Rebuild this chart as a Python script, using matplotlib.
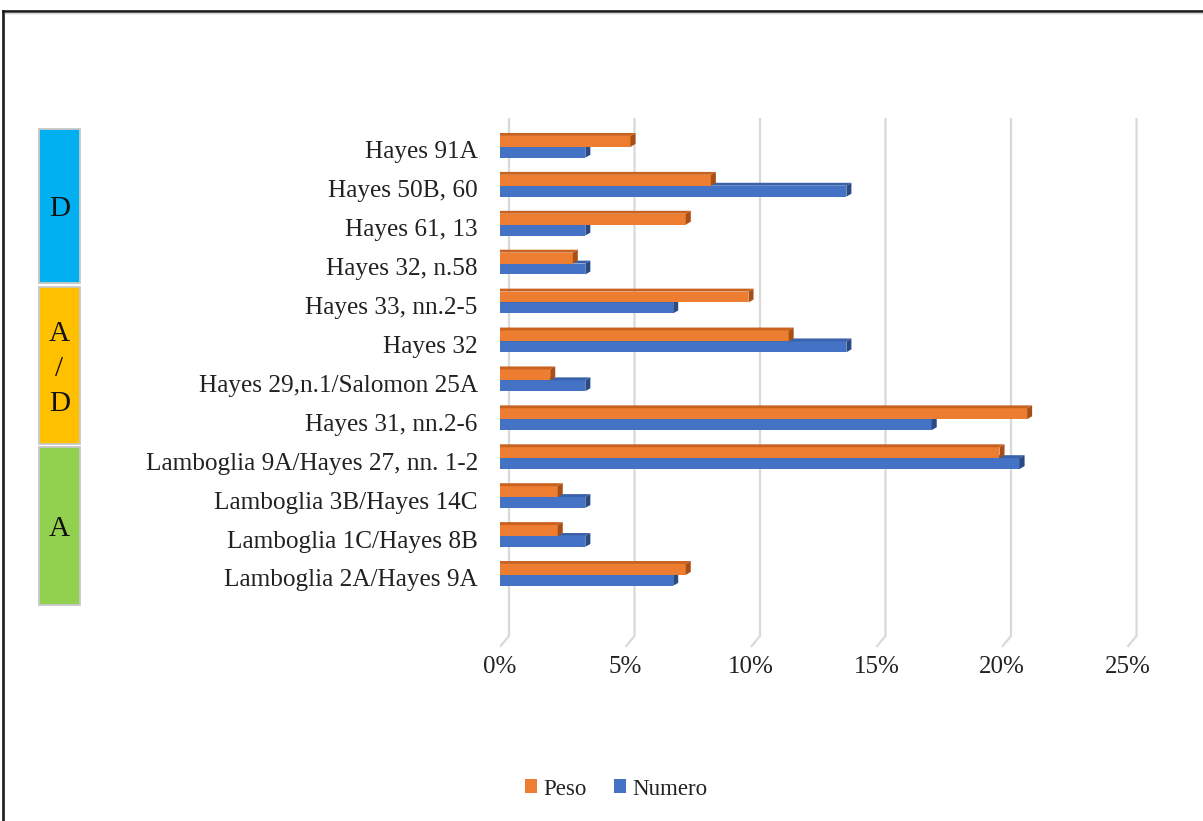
import matplotlib
matplotlib.use("Agg")
import matplotlib.pyplot as plt
from matplotlib.patches import Polygon, Rectangle
from matplotlib.lines import Line2D

plt.rcParams['font.family'] = ['Liberation Serif', 'DejaVu Serif']

# ---- data -------------------------------------------------------------
forms = [
    "Lamboglia 2A/Hayes 9A",
    "Lamboglia 1C/Hayes 8B",
    "Lamboglia 3B/Hayes 14C",
    "Lamboglia 9A/Hayes 27, nn. 1-2",
    "Hayes 31, nn.2-6",
    "Hayes 29,n.1/Salomon 25A",
    "Hayes 32",
    "Hayes 33, nn.2-5",
    "Hayes 32, n.58",
    "Hayes 61, 13",
    "Hayes 50B, 60",
    "Hayes 91A",
]
peso = [7.4, 2.3, 2.3, 19.9, 21.0, 2.0, 11.5, 9.9, 2.9, 7.4, 8.4, 5.2]
numero = [6.9, 3.4, 3.4, 20.7, 17.2, 3.4, 13.8, 6.9, 3.4, 3.4, 13.8, 3.4]
series_names = ["Peso", "Numero"]
x_ticks = [0, 5, 10, 15, 20, 25]
x_ticklabels = ["0%", "5%", "10%", "15%", "20%", "25%"]
groups = ["D", "A\n/\nD", "A"]

# ---- style ------------------------------------------------------------
W, H = 1203, 821
ORANGE, ORANGE_TOP, ORANGE_SIDE = "#ED7D31", "#C9621F", "#A94F16"
BLUE, BLUE_TOP, BLUE_SIDE = "#4472C4", "#3A62AA", "#2A4A86"
GROUP_COLORS = ["#00B0F0", "#FFC000", "#92D050"]
TEXT = "#222222"

fig = plt.figure(figsize=(W / 100, H / 100), dpi=100)
fig.patch.set_facecolor("white")

def fx(px):
    return px / W

def fy(py):
    return 1 - py / H

# chart frame
fig.add_artist(Line2D([fx(3), fx(1210)], [fy(11), fy(11)], color="#1a1a1a", lw=1.9))
fig.add_artist(Line2D([fx(3), fx(3)], [fy(11), fy(830)], color="#1a1a1a", lw=1.9))
fig.add_artist(Line2D([fx(5), fx(1210)], [fy(13.5), fy(13.5)], color="#cfcfcf", lw=1.0))

# ---- main axes ---------------------------------------------------------
ax = fig.add_axes([fx(500), fy(648), (1145 - 500) / W, (648 - 118) / H])
px_per_pct = 25.1
ax.set_xlim(0, 645 / px_per_pct)
ax.set_ylim(-1.80, 11.82)
ax.set_facecolor("none")
for s in ax.spines.values():
    s.set_visible(False)

# gridlines on the back wall with a short slanted floor segment
gx = 9 / px_per_pct
for v in x_ticks:
    ax.plot([v + gx, v + gx, v], [11.82, -1.49, -1.77], color="#D9D9D9",
            lw=1.6, zorder=1, solid_capstyle="butt")

y = list(range(len(forms)))
bar_h = 0.28
dx, dy = 0.2, 0.075

def draw_series(vals, offset, face, top, side, z, label):
    pos = [i + offset for i in y]
    bars = ax.barh(pos, vals, height=bar_h, color=face, zorder=z, label=label,
                   linewidth=0)
    for p, v in zip(pos, vals):
        yb, yt = p - bar_h / 2, p + bar_h / 2
        ax.add_patch(Polygon([(0, yt), (v, yt), (v + dx, yt + dy), (0, yt + dy)],
                             closed=True, color=top, lw=0, zorder=z))
        ax.add_patch(Polygon([(v, yb), (v, yt), (v + dx, yt + dy), (v + dx, yb + dy)],
                             closed=True, color=side, lw=0, zorder=z))
    return bars

b_num = draw_series(numero, -0.06, BLUE, BLUE_TOP, BLUE_SIDE, 3, series_names[1])
b_peso = draw_series(peso, 0.22, ORANGE, ORANGE_TOP, ORANGE_SIDE, 4, series_names[0])

ax.set_yticks(y, forms, fontsize=18.2, color=TEXT)
ax.set_xticks(x_ticks, x_ticklabels, fontsize=18, color=TEXT)
ax.tick_params(axis="y", length=0, pad=16)
ax.tick_params(axis="x", length=0, pad=6)

# ---- period boxes on the left -----------------------------------------
box_spans = [(129, 283), (287, 444), (447, 605)]
for (top_px, bot_px), col, txt in zip(box_spans, GROUP_COLORS, groups):
    fig.add_artist(Rectangle((fx(38.5), fy(bot_px)), (80 - 38.5) / W,
                             (bot_px - top_px) / H, facecolor=col,
                             edgecolor="#C8C8C8", lw=1.3))
    lines = txt.split("\n")
    mid = (top_px + bot_px) / 2 + 3
    step = 35
    for k, ln in enumerate(lines):
        yy = mid + (k - (len(lines) - 1) / 2) * step
        fig.text(fx(59.5), fy(yy), ln, ha="center", va="center",
                 fontsize=21, color="#111111")

# ---- legend ------------------------------------------------------------
fig.legend(handles=[b_peso, b_num], labels=series_names, loc="center",
           bbox_to_anchor=(fx(616), fy(789)), ncol=2, frameon=False,
           fontsize=16.5, handlelength=0.55, handleheight=0.55,
           handletextpad=0.25, columnspacing=1.2, labelcolor=TEXT)

fig.savefig("out.png", dpi=100, facecolor="white")
